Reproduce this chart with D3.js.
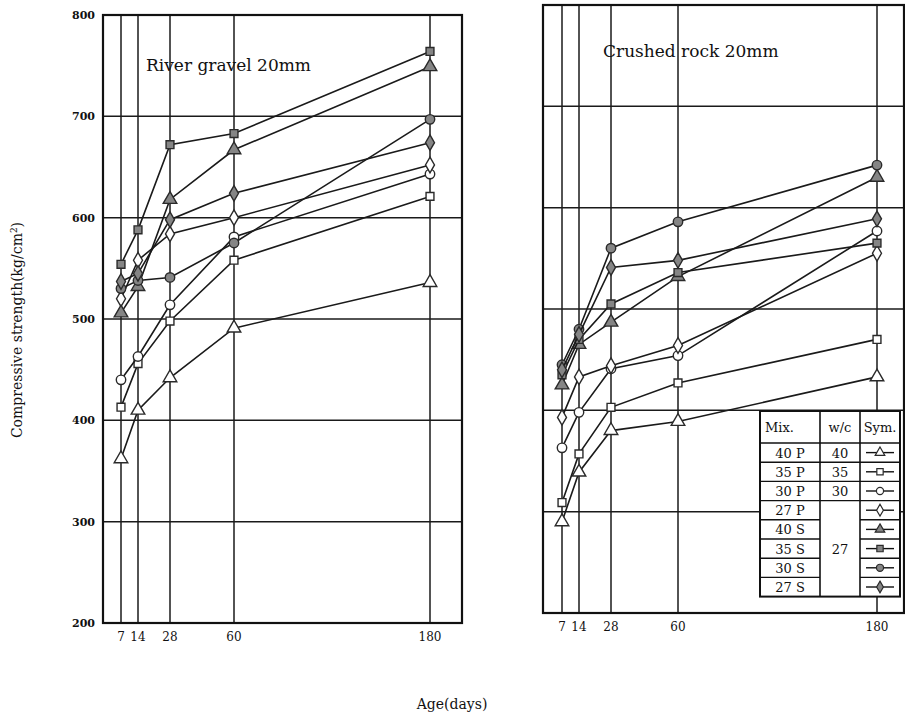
<!DOCTYPE html>
<html>
<head>
<meta charset="utf-8">
<script src="https://cdn.jsdelivr.net/npm/d3@7"></script>
<style>
  body { margin: 0; background: #fff; }
  text { font-family: "DejaVu Serif", "Liberation Serif", serif; fill: #111; }
</style>
</head>
<body>
<svg id="chart" width="905" height="723"></svg>
<script>
var days = [7, 14, 28, 60, 180];
var yTicks = [200, 300, 400, 500, 600, 700, 800];
var mixes = ["40P", "35P", "30P", "27P", "40S", "35S", "30S", "27S"];
var wcLabels = ["40", "35", "30", "27"];
var symbols = ["triangle", "square", "circle", "diamond", "triangle", "square", "circle", "diamond"];

// strength (kg/cm2) per mix, same order as mixes, at 7/14/28/60/180 days
var riverGravel = [
  [362, 410, 442, 491, 536],  // 40P
  [413, 456, 498, 558, 621],  // 35P
  [440, 463, 514, 581, 643],  // 30P
  [520, 558, 584, 600, 652],  // 27P
  [506, 532, 618, 667, 749],  // 40S
  [554, 588, 672, 683, 764],  // 35S
  [530, 538, 541, 575, 697],  // 30S
  [537, 545, 598, 624, 674]   // 27S
];
var crushedRock = [
  [290, 339, 380, 389, 433],  // 40P
  [309, 357, 403, 427, 470],  // 35P
  [363, 398, 441, 454, 577],  // 30P
  [393, 433, 444, 464, 555],  // 27P
  [425, 465, 487, 532, 630],  // 40S
  [435, 470, 505, 536, 565],  // 35S
  [445, 480, 560, 586, 642],  // 30S
  [440, 475, 541, 548, 589]   // 27S
];

var svg = d3.select("#chart");

var symbolType = {
  triangle: d3.symbolTriangle,
  square: d3.symbolSquare,
  circle: d3.symbolCircle,
  diamond: d3.symbolDiamond
};
var symbolSize = { triangle: 80, square: 62, circle: 70, diamond: 70 };

function drawPanel(opt, data) {
  // age axis is not linear in the original, so a piecewise scale
  var x = d3.scaleLinear()
    .domain([0, 7, 14, 28, 60, 180, 200])
    .range(opt.xr);
  var y = d3.scaleLinear().domain([200, 800]).range([opt.bottom, opt.top]);

  var g = svg.append("g");

  g.selectAll(".hgrid")
    .data(yTicks.slice(1, -1))
    .enter().append("line")
      .attr("x1", opt.xr[0]).attr("x2", opt.xr[6])
      .attr("y1", function(d) { return y(d); })
      .attr("y2", function(d) { return y(d); })
      .attr("stroke", "#1a1a1a").attr("stroke-width", 1.5);

  g.selectAll(".vgrid")
    .data(days)
    .enter().append("line")
      .attr("x1", function(d) { return x(d); })
      .attr("x2", function(d) { return x(d); })
      .attr("y1", opt.top).attr("y2", opt.bottom)
      .attr("stroke", "#1a1a1a").attr("stroke-width", 1.5);

  g.append("rect")
    .attr("x", opt.xr[0]).attr("y", opt.top)
    .attr("width", opt.xr[6] - opt.xr[0]).attr("height", opt.bottom - opt.top)
    .attr("fill", "none").attr("stroke", "#111").attr("stroke-width", 2.2);

  g.selectAll(".xlab")
    .data(days)
    .enter().append("text")
      .attr("x", function(d) { return x(d); })
      .attr("y", opt.bottom + 18)
      .attr("text-anchor", "middle")
      .style("font-size", "12px")
      .text(function(d) { return d; });

  if (opt.yLabels) {
    g.selectAll(".ylab")
      .data(yTicks)
      .enter().append("text")
        .attr("x", opt.xr[0] - 8)
        .attr("y", function(d) { return y(d); })
        .attr("dy", "0.35em")
        .attr("text-anchor", "end")
        .style("font-size", "11px")
        .style("font-weight", "bold")
        .text(function(d) { return d; });
  }

  g.append("text")
    .attr("x", opt.titleX).attr("y", opt.titleY)
    .style("font-size", "17px")
    .text(opt.title);

  var line = d3.line()
    .x(function(d, i) { return x(days[i]); })
    .y(function(d) { return y(d); });

  var series = g.selectAll(".series")
    .data(data)
    .enter().append("g");

  series.append("path")
    .attr("d", function(d) { return line(d); })
    .attr("fill", "none")
    .attr("stroke", "#1a1a1a")
    .attr("stroke-width", 1.6);

  series.each(function(d, si) {
    var s = symbols[si];
    d3.select(this).selectAll("path.mk")
      .data(d)
      .enter().append("path")
        .attr("class", "mk")
        .attr("d", d3.symbol().type(symbolType[s]).size(symbolSize[s]))
        .attr("transform", function(v, i) { return "translate(" + x(days[i]) + "," + y(v) + ")"; })
        .attr("fill", si < 4 ? "#fff" : "#858585")
        .attr("stroke", "#2a2a2a")
        .attr("stroke-width", 1.4);
  });
}

drawPanel({
  xr: [103, 121, 138, 170, 234, 430, 462],
  top: 15, bottom: 623,
  yLabels: true,
  title: "River  gravel 20mm", titleX: 146, titleY: 71
}, riverGravel);

drawPanel({
  xr: [543, 562, 579, 611, 678, 877, 904],
  top: 5, bottom: 613,
  yLabels: false,
  title: "Crushed rock 20mm", titleX: 603, titleY: 57
}, crushedRock);

// legend table
var lg = svg.append("g");
var tx = [760, 820, 860, 900];
var headH = 32, rowH = 19.2, tableTop = 411;
var rowY = d3.range(mixes.length + 1).map(function(i) { return tableTop + headH + i * rowH; });

lg.append("rect")
  .attr("x", tx[0]).attr("y", tableTop)
  .attr("width", tx[3] - tx[0]).attr("height", rowY[mixes.length] - tableTop)
  .attr("fill", "#fff").attr("stroke", "#111").attr("stroke-width", 2);

lg.selectAll(".col")
  .data(tx.slice(1, 3))
  .enter().append("line")
    .attr("x1", function(d) { return d; }).attr("x2", function(d) { return d; })
    .attr("y1", tableTop).attr("y2", rowY[mixes.length])
    .attr("stroke", "#111").attr("stroke-width", 1.6);

lg.selectAll(".row")
  .data(rowY.slice(0, mixes.length))
  .enter().append("line")
    .attr("x1", tx[0])
    .attr("x2", function(d, i) { return i > 3 ? tx[1] : tx[3]; })
    .attr("y1", function(d) { return d; }).attr("y2", function(d) { return d; })
    .attr("stroke", "#111").attr("stroke-width", 1.4);
// rows of the sym column below the merged w/c cell
lg.selectAll(".row2")
  .data(rowY.slice(4, mixes.length))
  .enter().append("line")
    .attr("x1", tx[2]).attr("x2", tx[3])
    .attr("y1", function(d) { return d; }).attr("y2", function(d) { return d; })
    .attr("stroke", "#111").attr("stroke-width", 1.4);

lg.selectAll(".head")
  .data(["Mix.", "w/c", "Sym."])
  .enter().append("text")
    .attr("x", function(d, i) { return i == 0 ? tx[0] + 5 : (tx[i] + tx[i + 1]) / 2; })
    .attr("y", tableTop + headH / 2 + 5)
    .attr("text-anchor", function(d, i) { return i == 0 ? "start" : "middle"; })
    .style("font-size", "13px")
    .text(function(d) { return d; });

lg.selectAll(".mix")
  .data(mixes)
  .enter().append("text")
    .attr("x", (tx[0] + tx[1]) / 2)
    .attr("y", function(d, i) { return rowY[i] + rowH / 2 + 5; })
    .attr("text-anchor", "middle")
    .style("font-size", "13px")
    .text(function(d) { return d.slice(0, 2) + " " + d.slice(2); });

lg.selectAll(".wc")
  .data(wcLabels)
  .enter().append("text")
    .attr("x", (tx[1] + tx[2]) / 2)
    .attr("y", function(d, i) { return i < 3 ? rowY[i] + rowH / 2 + 5 : (rowY[3] + rowY[8]) / 2 + 5; })
    .attr("text-anchor", "middle")
    .style("font-size", "13px")
    .text(function(d) { return d; });

var sym = lg.selectAll(".sym")
  .data(mixes)
  .enter().append("g")
    .attr("transform", function(d, i) { return "translate(" + (tx[2] + tx[3]) / 2 + "," + (rowY[i] + rowH / 2) + ")"; });
sym.append("line")
  .attr("x1", -14).attr("x2", 14)
  .attr("stroke", "#111").attr("stroke-width", 1.4);
sym.append("path")
  .attr("d", function(d, i) { return d3.symbol().type(symbolType[symbols[i]]).size(40)(); })
  .attr("fill", function(d, i) { return i < 4 ? "#fff" : "#858585"; })
  .attr("stroke", "#2a2a2a").attr("stroke-width", 1.2);

// axis titles
svg.append("text")
  .attr("transform", "translate(22,330) rotate(-90)")
  .attr("text-anchor", "middle")
  .style("font-size", "14px")
  .html("Compressive strength(kg/cm<tspan dy='-5' font-size='9px'>2</tspan><tspan dy='5'>)</tspan>");

svg.append("text")
  .attr("x", 452).attr("y", 709)
  .attr("text-anchor", "middle")
  .style("font-size", "14px")
  .text("Age(days)");
</script>
</body>
</html>
